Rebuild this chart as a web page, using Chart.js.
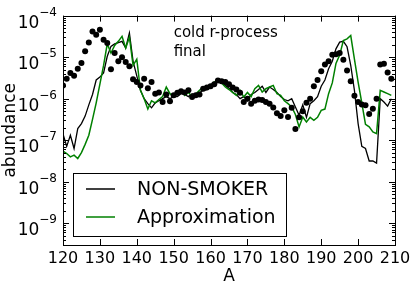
<!DOCTYPE html>
<html><head><meta charset="utf-8">
<script src="https://cdn.jsdelivr.net/npm/chart.js@4"></script>
<style>html,body{margin:0;padding:0;background:#fff}</style>
</head><body>
<canvas id="c" width="415" height="296"></canvas>
<script>
// mass numbers A
const massNumbers = [120,121,122,123,124,125,126,127,128,129,130,131,132,133,134,135,136,137,138,139,
  140,141,142,143,144,145,146,147,148,149,150,151,152,153,154,155,156,157,158,159,
  160,161,162,163,164,165,166,167,168,169,170,171,172,173,174,175,176,177,178,179,
  180,181,182,183,184,185,186,187,188,189,190,191,192,193,194,195,196,197,198,199,
  200,201,202,203,204,205,206,207,208,209];
// log10(abundance)
const nonSmokerLog = [-6.85,-7.15,-6.88,-7.2,-6.72,-6.6,-6.42,-6.15,-5.9,-5.55,
  -5.48,-5.38,-4.98,-4.74,-4.68,-4.65,-4.62,-4.78,-4.42,-5.1,
  -5.45,-5.8,-6.0,-6.12,-6.22,-6.1,-6.05,-6.0,-5.95,-6.0,
  -5.95,-5.95,-5.88,-5.9,-5.95,-5.88,-5.9,-5.85,-5.8,-5.78,
  -5.72,-5.65,-5.6,-5.62,-5.68,-5.75,-5.85,-5.9,-6.0,-5.95,
  -6.05,-5.9,-5.85,-5.78,-5.7,-5.85,-5.72,-5.78,-5.85,-5.95,
  -6.02,-6.05,-6.0,-6.2,-6.4,-6.15,-6.45,-6.12,-6.05,-5.95,
  -5.7,-5.55,-5.28,-5.1,-4.8,-4.64,-4.62,-4.75,-5.2,-5.8,
  -6.6,-7.15,-7.2,-7.5,-7.5,-7.55,-6.0,-6.08,-6.18,-6.0];
const approximationLog = [-7.26,-7.32,-7.4,-7.36,-7.44,-7.3,-7.1,-6.88,-6.5,-6.1,
  -5.65,-5.2,-4.68,-4.9,-4.72,-4.62,-4.5,-4.78,-4.52,-5.2,
  -5.05,-5.8,-6.0,-6.25,-6.05,-6.1,-6.02,-5.95,-5.72,-5.88,
  -5.95,-5.88,-5.8,-5.92,-5.85,-5.95,-5.88,-5.8,-5.72,-5.72,
  -5.68,-5.6,-5.58,-5.62,-5.72,-5.78,-5.85,-5.92,-5.8,-5.96,
  -5.85,-5.95,-5.76,-5.68,-5.84,-5.76,-5.72,-5.68,-5.88,-5.92,
  -6.05,-6.12,-6.2,-6.38,-6.68,-6.44,-6.56,-6.45,-6.52,-6.45,
  -6.28,-6.25,-5.88,-5.62,-5.15,-4.95,-4.6,-4.56,-4.48,-5.05,
  -5.6,-6.1,-6.62,-6.68,-6.8,-6.84,-5.8,-5.84,-5.88,-5.92];
const solarLog = [-5.68,-5.52,-5.38,-5.45,-5.28,-5.14,-4.86,-4.65,-4.38,-4.46,
  -4.34,-4.58,-4.66,-5.29,-4.9,-5.1,-5.0,-5.12,-5.22,-5.53,
  -5.6,-5.68,-5.52,-5.75,-5.6,-5.88,-5.85,-6.08,-5.9,-6.06,
  -5.92,-5.86,-5.82,-5.85,-5.8,-5.96,-5.92,-5.9,-5.76,-5.73,
  -5.7,-5.65,-5.56,-5.58,-5.6,-5.65,-5.73,-5.78,-5.86,-6.08,
  -6.0,-6.12,-6.05,-6.02,-6.03,-6.08,-6.12,-6.21,-6.35,-6.42,
  -6.28,-6.44,-6.22,-6.73,-6.45,-6.3,-6.1,-6.0,-5.7,-5.55,
  -5.34,-5.18,-5.1,-4.94,-4.93,-4.9,-5.06,-5.32,-5.58,-5.93,
  -6.08,-6.14,-6.16,-6.37,-6.24,-6.0,-5.18,-5.16,-5.37,-5.52];
const xTickValues = [120,130,140,150,160,170,180,190,200,210];
const yDecades = [-9,-8,-7,-6,-5,-4];
const seriesNames = ['NON-SMOKER','Approximation'];
const noteLines = ['cold r-process','final'];

const FONT = 'DejaVu Sans';
const toPoints = logs => logs.map((v,i)=>({x:massNumbers[i], y:Math.pow(10,v)}));

const framePlugin = {
  id:'frame',
  afterDraw(chart){
    const ctx = chart.ctx, ca = chart.chartArea, xs = chart.scales.x, ys = chart.scales.y;
    ctx.save();
    // legend
    const lx = ca.left + 10, ly = ca.bottom - 72, lw = 213, lh = 63;
    ctx.fillStyle = '#fff';
    ctx.fillRect(lx, ly, lw, lh);
    ctx.strokeStyle = '#000'; ctx.lineWidth = 1;
    ctx.strokeRect(lx + 0.5, ly + 0.5, lw, lh);
    const ds = chart.data.datasets;
    [2,1].forEach((i,k)=>{
      const yy = ly + 16 + k*28;
      ctx.strokeStyle = ds[i].borderColor; ctx.lineWidth = 1.5;
      ctx.beginPath(); ctx.moveTo(lx+13, yy); ctx.lineTo(lx+42, yy); ctx.stroke();
      ctx.fillStyle = '#000'; ctx.font = '19px "' + FONT + '"';
      ctx.textBaseline = 'middle'; ctx.textAlign = 'left';
      ctx.fillText(ds[i].label, lx + 64, yy + 1);
    });
    // annotation
    ctx.font = '15px "' + FONT + '"';
    ctx.fillStyle = '#000'; ctx.textBaseline = 'middle'; ctx.textAlign = 'left';
    ctx.fillText(noteLines[0], xs.getPixelForValue(150), ys.getPixelForValue(Math.pow(10,-4.43)));
    ctx.fillText(noteLines[1], xs.getPixelForValue(150), ys.getPixelForValue(Math.pow(10,-4.89)));
    // y tick labels 10^n
    ctx.textBaseline = 'alphabetic'; ctx.textAlign = 'right';
    yDecades.forEach(n=>{
      const py = ys.getPixelForValue(Math.pow(10,n));
      const exp = '\u2212' + String(Math.abs(n));
      ctx.font = '12px "' + FONT + '"';
      const ew = ctx.measureText(exp).width;
      const xr = ca.left - 6;
      ctx.fillText(exp, xr, py);
      ctx.font = '17px "' + FONT + '"';
      ctx.fillText('10', xr - ew, py + 12);
    });
    // frame
    ctx.strokeStyle = '#000'; ctx.lineWidth = 1;
    ctx.strokeRect(Math.round(ca.left)+0.5, Math.round(ca.top)+0.5, Math.round(ca.right-ca.left), Math.round(ca.bottom-ca.top));
    // inward ticks
    ctx.beginPath();
    xTickValues.forEach(t=>{
      const px = Math.round(xs.getPixelForValue(t)) + 0.5;
      ctx.moveTo(px, ca.bottom); ctx.lineTo(px, ca.bottom - 6);
      ctx.moveTo(px, ca.top); ctx.lineTo(px, ca.top + 6);
    });
    for (let n = -10; n <= -4; n++) {
      for (let k = 1; k <= 9; k++) {
        const v = k * Math.pow(10, n);
        if (v < ys.min * 0.999 || v > ys.max * 1.001) continue;
        const py = Math.round(ys.getPixelForValue(v)) + 0.5;
        const len = k === 1 ? 6 : 3;
        ctx.moveTo(ca.left, py); ctx.lineTo(ca.left + len, py);
        ctx.moveTo(ca.right, py); ctx.lineTo(ca.right - len, py);
      }
    }
    ctx.stroke();
    ctx.restore();
  }
};

new Chart(document.getElementById('c'), {
  type:'line',
  data:{datasets:[
    {label:'solar', data:toPoints(solarLog), showLine:false, pointRadius:3, pointBackgroundColor:'#000', pointBorderColor:'#000', pointBorderWidth:0, borderColor:'#000', order:1, clip:0},
    {label:seriesNames[1], data:toPoints(approximationLog), borderColor:'#008000', borderWidth:1.5, pointRadius:0, tension:0, order:2},
    {label:seriesNames[0], data:toPoints(nonSmokerLog), borderColor:'#000', borderWidth:1.3, pointRadius:0, tension:0, order:3}
  ]},
  options:{
    responsive:false, animation:false, devicePixelRatio:1,
    layout:{padding:{top:15, right:20, left:0, bottom:0}},
    plugins:{legend:{display:false}, tooltip:{enabled:false}},
    scales:{
      x:{type:'linear', min:120, max:210,
        afterBuildTicks:s=>{ s.ticks = xTickValues.map(v=>({value:v})); },
        afterFit:s=>{ s.height = 51; },
        grid:{display:false, drawTicks:false}, border:{display:false},
        ticks:{font:{family:FONT, size:16}, color:'#000', padding:4, maxRotation:0, autoSkip:false},
        title:{display:true, text:'A', font:{family:FONT, size:17}, color:'#000', padding:{top:0,bottom:9}}
      },
      y:{type:'logarithmic', min:3e-10, max:1e-4,
        afterBuildTicks:s=>{ s.ticks = yDecades.map(n=>({value:Math.pow(10,n)})); },
        afterFit:s=>{ s.width = 63; },
        grid:{display:false, drawTicks:false}, border:{display:false},
        ticks:{font:{family:FONT, size:16}, color:'#000', padding:6, autoSkip:false, callback:()=>''},
        title:{display:true, text:'abundance', font:{family:FONT, size:17}, color:'#000', padding:{top:0,bottom:0}}
      }
    }
  },
  plugins:[framePlugin]
});
</script>
</body></html>
